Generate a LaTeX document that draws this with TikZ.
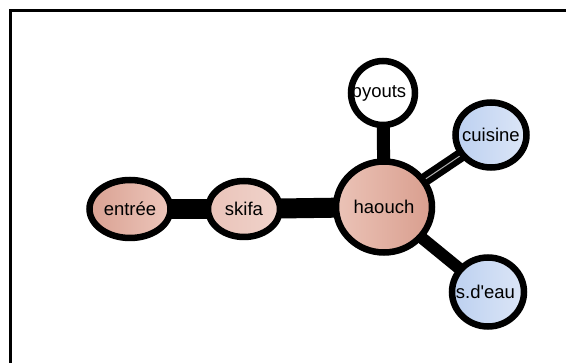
\documentclass[tikz,border=0pt]{standalone}
\usepackage{fontspec}
\setmainfont{Liberation Sans}
\usetikzlibrary{shapes.geometric,calc,backgrounds}
\definecolor{entL}{HTML}{D9A192}
\definecolor{entR}{HTML}{EDC6BB}
\definecolor{skiL}{HTML}{EAC3B9}
\definecolor{skiR}{HTML}{F0D3CB}
\definecolor{haoL}{HTML}{EBC3B7}
\definecolor{haoR}{HTML}{D99E8E}
\definecolor{bluL}{HTML}{BCD0F0}
\definecolor{bluR}{HTML}{DCE6F7}
\tikzset{
  room/.style={ellipse, inner xsep=-25pt, inner ysep=-12pt, outer sep=0pt,
    font=\fontsize{18.5}{20}\selectfont, text=black},
  nb/.style={draw=black, line width=6.5pt},
  link/.style={draw=black, line cap=butt},
  frameline/.style={draw=black, line width=3pt}
}
\begin{document}
\begin{tikzpicture}[x=1pt,y=-1pt]
\useasboundingbox (0,0) rectangle (566,363);
\draw[frameline] (10,363) -- (10,11) -- (566,11);

\node[room, minimum width=81pt, minimum height=58pt, left color=entL, right color=entR] (entree) at (130,209) {entrée};
\node[room, minimum width=72pt, minimum height=56pt, left color=skiL, right color=skiR] (skifa) at (244,209) {skifa};
\node[room, minimum width=96pt, minimum height=91pt, left color=haoL, right color=haoR] (haouch) at (384,207) {haouch};
\node[room, minimum width=64pt, minimum height=64pt, fill=white] (byouts) at (383,93) {\hspace*{-8pt}byouts};
\node[room, minimum width=71pt, minimum height=65pt, left color=bluL, middle color=white, right color=bluR] (cuisine) at (491,135) {cuisine};
\node[room, minimum width=72pt, minimum height=69pt, left color=bluL, middle color=white, right color=bluR] (seau) at (488,292) {\hspace*{-5pt}s.d\textquotesingle eau};

\begin{scope}[on background layer]
\draw[link, line width=20pt] (entree) -- (skifa);
\draw[link, line width=20pt] (skifa) -- (haouch);
\draw[link, line width=13pt] (byouts) -- (haouch);
\draw[link, line width=6pt, double=black!30, double distance=1pt] (cuisine) -- (haouch);
\draw[link, line width=12pt] (seau) -- (haouch);
\end{scope}

\foreach \nm in {entree,skifa,haouch,byouts,cuisine,seau}
  \draw[nb] let \p1=($(\nm.east)-(\nm.center)$), \p2=($(\nm.north)-(\nm.center)$) in
    (\nm.center) ellipse [x radius=\x1, y radius=\y2];
\end{tikzpicture}
\end{document}
